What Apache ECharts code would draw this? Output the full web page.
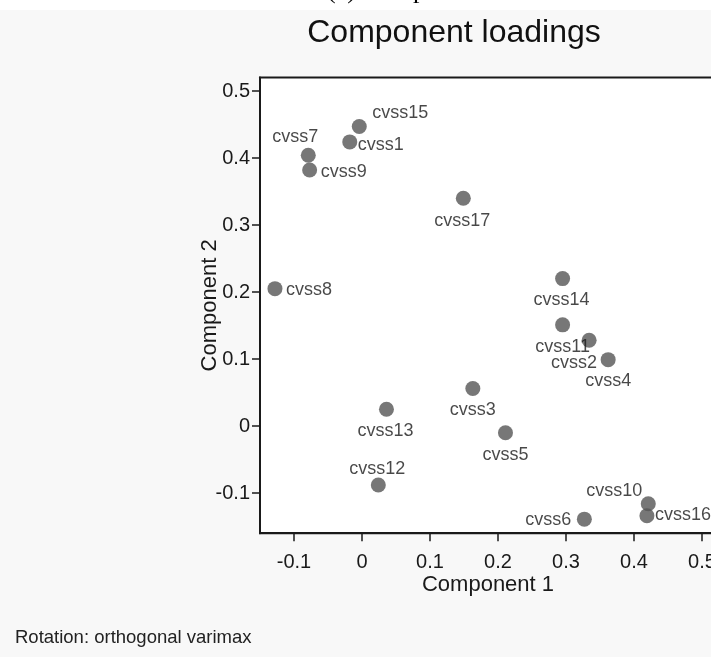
<!DOCTYPE html>
<html>
<head>
<meta charset="utf-8">
<script src="https://cdn.jsdelivr.net/npm/echarts@6/dist/echarts.min.js"></script>
<style>
  html, body { margin: 0; padding: 0; background: #f8f8f8; }
  #chart { width: 711px; height: 657px; }
</style>
</head>
<body>
<div id="chart"></div>
<script>
// ---- data ----
const variables = ['cvss15','cvss1','cvss7','cvss9','cvss17','cvss8','cvss14','cvss11','cvss2','cvss4','cvss3','cvss13','cvss5','cvss12','cvss6','cvss10','cvss16'];
const component1 = [-0.004, -0.018, -0.079, -0.077, 0.149, -0.128, 0.295, 0.295, 0.334, 0.362, 0.163, 0.036, 0.211, 0.024, 0.327, 0.421, 0.419];
const component2 = [0.447, 0.424, 0.404, 0.382, 0.340, 0.205, 0.220, 0.151, 0.128, 0.099, 0.056, 0.025, -0.010, -0.088, -0.139, -0.116, -0.134];
const xTicks = [-0.1, 0, 0.1, 0.2, 0.3, 0.4, 0.5];
const yTicks = [-0.1, 0, 0.1, 0.2, 0.3, 0.4, 0.5];
const titleText = 'Component loadings';
const xTitle = 'Component 1';
const yTitle = 'Component 2';
const noteText = 'Rotation: orthogonal varimax';
const captionText = '(c) Component';

// label offsets (styling) relative to marker centre
const labelOffsets = {
  cvss15: [41, -13], cvss1: [31, 3], cvss7: [-13, -18], cvss9: [34, 2],
  cvss17: [-1, 23], cvss8: [34, 1], cvss14: [-1, 21], cvss11: [0, 22],
  cvss2: [-15, 23], cvss4: [0, 21], cvss3: [0, 22], cvss13: [-1, 22],
  cvss5: [0, 22], cvss12: [-1, -16], cvss6: [-36, 1], cvss10: [-34, -13],
  cvss16: [36, -1]
};

const seriesData = variables.map((name, i) => ({
  name: name,
  value: [component1[i], component2[i]]
}));

const font = 'Liberation Sans, Arial, sans-serif';
const chart = echarts.init(document.getElementById('chart'));
chart.setOption({
  backgroundColor: '#f8f8f8',
  animation: false,
  grid: {
    left: 260, top: 77.6, width: 476, height: 455.6,
    outerBoundsMode: 'none', containLabel: false,
    show: true, backgroundColor: '#ffffff', borderColor: '#1a1a1a', borderWidth: 2
  },
  xAxis: {
    type: 'value', min: -0.15, max: 0.55,
    name: xTitle, nameLocation: 'middle', nameGap: 41, nameMoveOverlap: false,
    nameTextStyle: { fontFamily: font, fontSize: 22, color: '#1a1a1a', padding: [0, 20, 0, 0] },
    axisLine: { show: true, onZero: false, lineStyle: { color: '#1a1a1a', width: 2 } },
    axisTick: { show: true, inside: false, length: 8, customValues: xTicks, lineStyle: { color: '#1a1a1a', width: 1.5 } },
    axisLabel: { customValues: xTicks, fontFamily: font, fontSize: 20, color: '#1a1a1a', margin: 19,
      formatter: v => String(Math.round(v * 10) / 10) },
    splitLine: { show: false }
  },
  yAxis: {
    type: 'value', min: -0.16, max: 0.52,
    name: yTitle, nameLocation: 'middle', nameGap: 39, nameRotate: 90, nameMoveOverlap: false,
    nameTextStyle: { fontFamily: font, fontSize: 22, color: '#1a1a1a' },
    axisLine: { show: true, onZero: false, lineStyle: { color: '#1a1a1a', width: 2 } },
    axisTick: { show: true, inside: false, length: 8, customValues: yTicks, lineStyle: { color: '#1a1a1a', width: 1.5 } },
    axisLabel: { customValues: yTicks, fontFamily: font, fontSize: 20, color: '#1a1a1a', margin: 10,
      formatter: v => String(Math.round(v * 10) / 10) },
    splitLine: { show: false }
  },
  series: [{
    type: 'scatter',
    symbol: 'circle',
    symbolSize: 15,
    itemStyle: { color: '#555555' },
    label: {
      show: true, position: 'inside', align: 'center', verticalAlign: 'middle',
      formatter: p => p.name,
      fontFamily: font, fontSize: 18, color: '#1a1a1a'
    },
    labelLayout: function (params) {
      const off = labelOffsets[variables[params.dataIndex]] || [0, 0];
      return { dx: off[0], dy: off[1], hideOverlap: false };
    },
    data: seriesData
  }],
  graphic: [
    { type: 'rect', left: 0, top: 0, shape: { width: 711, height: 10 }, style: { fill: '#ffffff' }, silent: true },
    { type: 'text', x: 327, y: -9, style: { text: captionText, fontFamily: 'Liberation Serif, Times New Roman, serif', fontSize: 26, fill: '#000', verticalAlign: 'middle' } },
    { type: 'text', x: 454, y: 33, style: { text: titleText, fontFamily: font, fontSize: 32, fill: '#111', align: 'center', verticalAlign: 'middle' } },
    { type: 'text', x: 15, y: 638, style: { text: noteText, fontFamily: font, fontSize: 18.5, fill: '#222', verticalAlign: 'middle' } }
  ]
});
</script>
</body>
</html>
